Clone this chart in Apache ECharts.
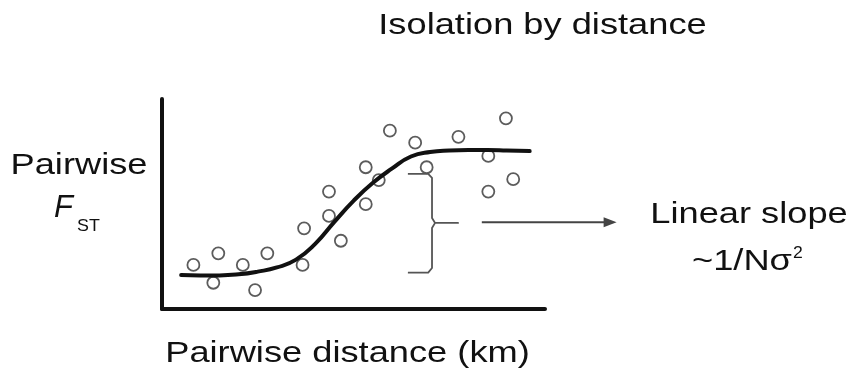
<!DOCTYPE html>
<html>
<head>
<meta charset="utf-8">
<title>Isolation by distance</title>
<script src="https://cdn.jsdelivr.net/npm/echarts@6/dist/echarts.min.js"></script>
<style>
  html, body { margin: 0; padding: 0; background: #ffffff; }
  #chart { width: 851px; height: 380px; }
</style>
</head>
<body>
<div id="chart"></div>
<script>
// Sampled pairs: pairwise distance (x) vs pairwise F_ST (y), arbitrary units
const pairDistance = [8.2, 13.4, 14.7, 21.1, 24.3, 27.5, 36.7, 37.1, 43.6, 43.6, 46.7,
                      53.2, 53.2, 56.6, 59.5, 66.1, 69.1, 77.4, 85.2, 89.8, 85.2, 91.7];
const pairFst      = [21.0, 12.5, 26.5, 21.0, 9.0, 26.5, 21.0, 38.4, 55.9, 44.3, 32.5,
                      67.5, 49.9, 61.4, 84.9, 79.2, 67.5, 82.0, 72.9, 90.8, 55.9, 61.8];

// Sigmoid trend through the cloud
const trendDistance = [5, 10, 15, 20, 25, 30, 35, 40, 45, 50, 55, 60, 65, 70, 75, 80, 85, 90, 96];
const trendFst      = [16.2, 16.0, 16.0, 16.5, 17.8, 19.8, 23.5, 31.0, 41.5, 51.5, 60.0, 66.8,
                       72.6, 74.8, 75.5, 75.7, 75.7, 75.5, 75.2];

// Brace marking the linear part of the rise, and the arrow leading to its note
const braceX = [64.2, 69.5, 70.5, 70.5, 71.3, 77.3, 71.3, 70.5, 70.5, 69.5, 64.2];
const braceY = [64.3, 64.3, 62.4, 43.3, 41.0, 41.0, 41.0, 38.6, 19.5, 17.3, 17.3];
const arrowFrom = [83.5, 41.3];
const arrowTo   = [118.7, 41.3];

// Text
const titleText = 'Isolation by distance';
const xTitle = 'Pairwise distance (km)';
const yTitleLine1 = 'Pairwise';
const yTitleSymbol = 'F';
const yTitleSub = 'ST';
const noteLine1 = 'Linear slope';
const noteLine2 = '~1/Nσ';
const noteSup = '2';

const zip = (xs, ys) => xs.map((x, i) => [x, ys[i]]);

const FONT = '"Liberation Sans", Arial, Helvetica, sans-serif';
const STRETCH = 1.25;

function label(text, x, y, size, opts) {
  opts = opts || {};
  return {
    type: 'text',
    x: x, y: y,
    scaleX: opts.scaleX == null ? STRETCH : opts.scaleX,
    silent: true,
    style: {
      text: text,
      font: (opts.italic ? 'italic ' : '') + size + 'px ' + FONT,
      fill: '#111111',
      textAlign: opts.align || 'center',
      textVerticalAlign: 'middle'
    }
  };
}

const chart = echarts.init(document.getElementById('chart'), null, { renderer: 'canvas' });

chart.setOption({
  backgroundColor: '#ffffff',
  animation: false,
  grid: { left: 162, top: 99, width: 383, height: 210 },
  xAxis: {
    type: 'value', min: 0, max: 100,
    axisLine: { show: true, onZero: false, lineStyle: { color: '#111111', width: 4 } },
    axisTick: { show: false }, axisLabel: { show: false }, splitLine: { show: false }
  },
  yAxis: {
    type: 'value', min: 0, max: 100,
    axisLine: { show: true, onZero: false, lineStyle: { color: '#111111', width: 4 } },
    axisTick: { show: false }, axisLabel: { show: false }, splitLine: { show: false }
  },
  series: [
    {
      name: 'pairs',
      type: 'scatter',
      z: 2,
      symbol: 'circle',
      symbolSize: 12,
      itemStyle: { color: '#ffffff', borderColor: '#333333', borderWidth: 1.8 },
      data: zip(pairDistance, pairFst)
    },
    {
      name: 'trend',
      type: 'line',
      z: 3,
      smooth: true,
      showSymbol: false,
      symbol: 'none',
      lineStyle: { color: '#111111', width: 4, cap: 'round' },
      data: zip(trendDistance, trendFst)
    },
    {
      name: 'brace',
      type: 'line',
      z: 3,
      showSymbol: false,
      symbol: 'none',
      lineStyle: { color: '#555555', width: 1.8, join: 'round' },
      data: zip(braceX, braceY)
    }
  ]
});

// Arrow from the brace to the note, placed through the axis scales
const p0 = chart.convertToPixel({ gridIndex: 0 }, arrowFrom);
const p1 = chart.convertToPixel({ gridIndex: 0 }, arrowTo);
const headLen = 13, headHalf = 5;

chart.setOption({
  graphic: [
    label(titleText, 542.5, 26, 29),
    label(xTitle, 347.5, 353.5, 29),
    label(yTitleLine1, 79, 166, 29),
    label(yTitleSymbol, 54, 208, 31, { italic: true, align: 'left', scaleX: 1 }),
    label(yTitleSub, 77, 226.5, 17, { align: 'left', scaleX: 1.05 }),
    label(noteLine1, 749, 215, 29),
    label(noteLine2, 692, 262, 29, { align: 'left' }),
    label(noteSup, 793, 254, 16, { align: 'left', scaleX: 1.1 }),
    {
      type: 'line', silent: true,
      shape: { x1: p0[0], y1: p0[1], x2: p1[0] - headLen + 1, y2: p1[1] },
      style: { stroke: '#444444', lineWidth: 2 }
    },
    {
      type: 'polygon', silent: true,
      shape: { points: [[p1[0], p1[1]], [p1[0] - headLen, p1[1] - headHalf], [p1[0] - headLen, p1[1] + headHalf]] },
      style: { fill: '#444444' }
    }
  ]
});
</script>
</body>
</html>
